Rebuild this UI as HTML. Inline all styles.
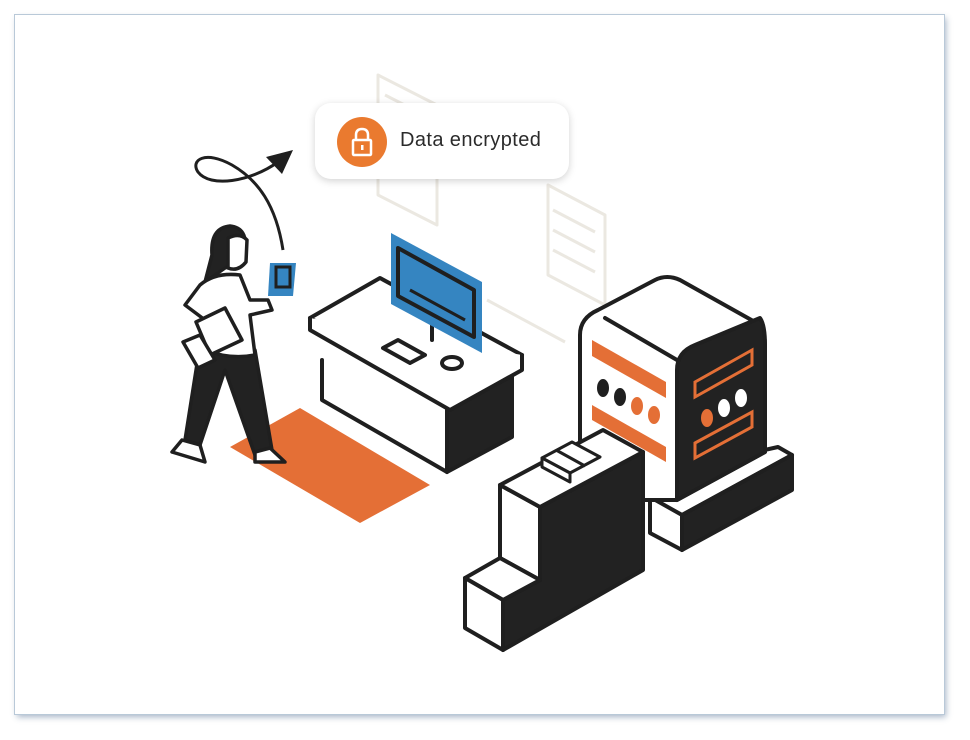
<!DOCTYPE html>
<html><head><meta charset="utf-8"><style>
html,body{margin:0;padding:0;background:#fff;}
body{width:970px;height:740px;position:relative;overflow:hidden;font-family:"Liberation Sans",sans-serif;}
.card{position:absolute;left:15px;top:15px;width:929px;height:699px;background:#fff;box-shadow:0 0 0 1px #b9c9d8,2px 3px 6px rgba(60,90,130,.45);}
svg{position:absolute;left:0;top:0;}
.tip{position:absolute;left:315px;top:103px;width:254px;height:76px;background:#fff;border-radius:16px;box-shadow:0 2px 8px rgba(0,0,0,.18);}
.tip .c{position:absolute;left:22px;top:14px;width:50px;height:50px;border-radius:50%;background:#ea7a2f;}
.tip .t{position:absolute;left:85px;top:26px;font-size:20px;color:#2b2b2b;letter-spacing:.4px;}
</style></head><body>
<div class="card"></div>
<svg width="970" height="740" viewBox="0 0 970 740">
<g fill="none" stroke="#ebe8e1" stroke-width="3" stroke-linejoin="round">
<polygon points="378,75 437,105 437,225 378,195"/>
<polygon points="548,185 605,215 605,305 548,275"/>
<line x1="487" y1="300" x2="565" y2="342"/>
<line x1="553" y1="210" x2="595" y2="232"/><line x1="553" y1="230" x2="595" y2="252"/><line x1="553" y1="250" x2="595" y2="272"/>
<line x1="385" y1="95" x2="430" y2="118"/>
<line x1="345" y1="315" x2="395" y2="340"/>
</g>
<polygon points="230,447 300,408 430,485 360,523" fill="#e46f36"/>
<g stroke="#1f1f1f" stroke-width="4" stroke-linejoin="round" stroke-linecap="round">
<polygon points="447,410 512,376 512,437 447,472" fill="#222"/>
<polyline points="322,360 322,400 447,472" fill="none"/>
<polygon points="310,318 380,278 522,355 450,398" fill="#fff"/>
<polyline points="310,318 310,330 450,410 522,370 522,355" fill="#fff"/>
<polygon points="383,348 398,340 425,355 410,363" fill="#fff"/>
<ellipse cx="452" cy="363" rx="10" ry="6" fill="#fff"/>
<line x1="432" y1="325" x2="432" y2="340"/>
</g>
<polygon points="391,233 482,282 482,353 391,304" fill="#3585c1"/>
<polygon points="398,248 474,290 474,337 398,296" fill="none" stroke="#1f1f1f" stroke-width="4" stroke-linejoin="round"/>
<line x1="410" y1="290" x2="465" y2="320" stroke="#1f1f1f" stroke-width="3"/>
<g stroke="#1f1f1f" stroke-width="4" stroke-linejoin="round" stroke-linecap="round">
<polygon points="620,482 682,515 792,455 778,447" fill="#fff"/>
<polygon points="682,515 792,455 792,490 682,550" fill="#222"/>
<polygon points="650,497 682,515 682,550 650,533" fill="#fff"/>
<path d="M580,500 L580,335 Q580,318 598,310 L655,280 Q667,274 680,280 L755,322 Q765,330 765,345 L765,452 L677,500 Z" fill="#fff"/>
<path d="M677,370 Q677,352 695,345 L760,318 Q765,325 765,345 L765,452 L677,500 Z" fill="#222"/>
<line x1="605" y1="318" x2="677" y2="360"/>
</g>
<g fill="#e46f36">
<polygon points="592,340 666,382 666,398 592,356"/>
<polygon points="592,405 666,447 666,462 592,420"/>
</g>
<g fill="none" stroke="#e46f36" stroke-width="3">
<polygon points="695,382 752,350 752,365 695,397"/>
<polygon points="695,443 752,412 752,427 695,458"/>
</g>
<g><ellipse cx="603" cy="388" rx="6" ry="9" fill="#1f1f1f"/><ellipse cx="620" cy="397" rx="6" ry="9" fill="#1f1f1f"/>
<ellipse cx="637" cy="406" rx="6" ry="9" fill="#e46f36"/><ellipse cx="654" cy="415" rx="6" ry="9" fill="#e46f36"/>
<ellipse cx="707" cy="418" rx="6" ry="9" fill="#e46f36"/><ellipse cx="724" cy="408" rx="6" ry="9" fill="#fff"/><ellipse cx="741" cy="398" rx="6" ry="9" fill="#fff"/></g>
<g stroke="#1f1f1f" stroke-width="4" stroke-linejoin="round">
<polygon points="540,507 643,452 643,570 503,650 503,600 540,580" fill="#222"/>
<polygon points="500,485 540,507 540,580 500,558" fill="#fff"/>
<polygon points="500,485 603,430 643,452 540,507" fill="#fff"/>
<polygon points="465,578 500,558 540,580 503,600" fill="#fff"/>
<polygon points="465,578 503,600 503,650 465,628" fill="#fff"/>
<polygon points="542,458 572,442 600,457 570,473" fill="#fff" stroke-width="3"/>
<polygon points="542,458 570,473 570,482 542,467" fill="#fff" stroke-width="3"/>
<line x1="556" y1="450" x2="585" y2="466" stroke-width="3"/>
</g>
<path d="M283,250 C276,205 258,180 232,165 C205,150 190,160 198,172 C210,188 250,182 278,162" fill="none" stroke="#1f1f1f" stroke-width="3"/>
<polygon points="293,150 266,157 282,174" fill="#1f1f1f"/>
<g stroke="#1f1f1f" stroke-width="3.5" stroke-linejoin="round" stroke-linecap="round">
<path d="M212,255 Q210,228 230,226 Q248,228 245,250 L240,262 L225,268 Q215,275 205,282 Z" fill="#222"/>
<path d="M228,238 Q240,232 247,240 L246,262 Q238,272 228,268 Z" fill="#fff"/>
<path d="M200,345 L185,440 L200,445 L225,370 L255,455 L272,450 L255,350 Z" fill="#222"/>
<path d="M200,285 Q215,272 240,275 L250,300 L268,300 L272,310 L250,315 L255,355 Q230,360 205,350 L205,320 L185,305 Z" fill="#fff"/>
<polygon points="196,322 225,308 242,340 210,355" fill="#fff"/>
<polygon points="183,342 200,335 215,360 198,368" fill="#fff"/>
<path d="M182,440 L172,452 L205,462 L200,445 Z" fill="#fff"/>
<path d="M255,452 L255,462 L285,462 L270,448 Z" fill="#fff"/>
</g>
<polygon points="270,263 296,263 293,296 268,296" fill="#3585c1"/>
<rect x="276" y="267" width="14" height="20" fill="none" stroke="#1f1f1f" stroke-width="3"/>
</svg>
<div class="tip"><div class="c"><svg width="50" height="50" viewBox="0 0 50 50"><path d="M19,23 V18 Q19,12 25,12 Q31,12 31,18 V23" fill="none" stroke="#fff" stroke-width="2.5"/><rect x="16" y="23" width="18" height="15" fill="none" stroke="#fff" stroke-width="2.5" rx="1"/><rect x="24" y="28" width="2.5" height="5" fill="#fff"/></svg></div><div class="t">Data encrypted</div></div>
</body></html>
